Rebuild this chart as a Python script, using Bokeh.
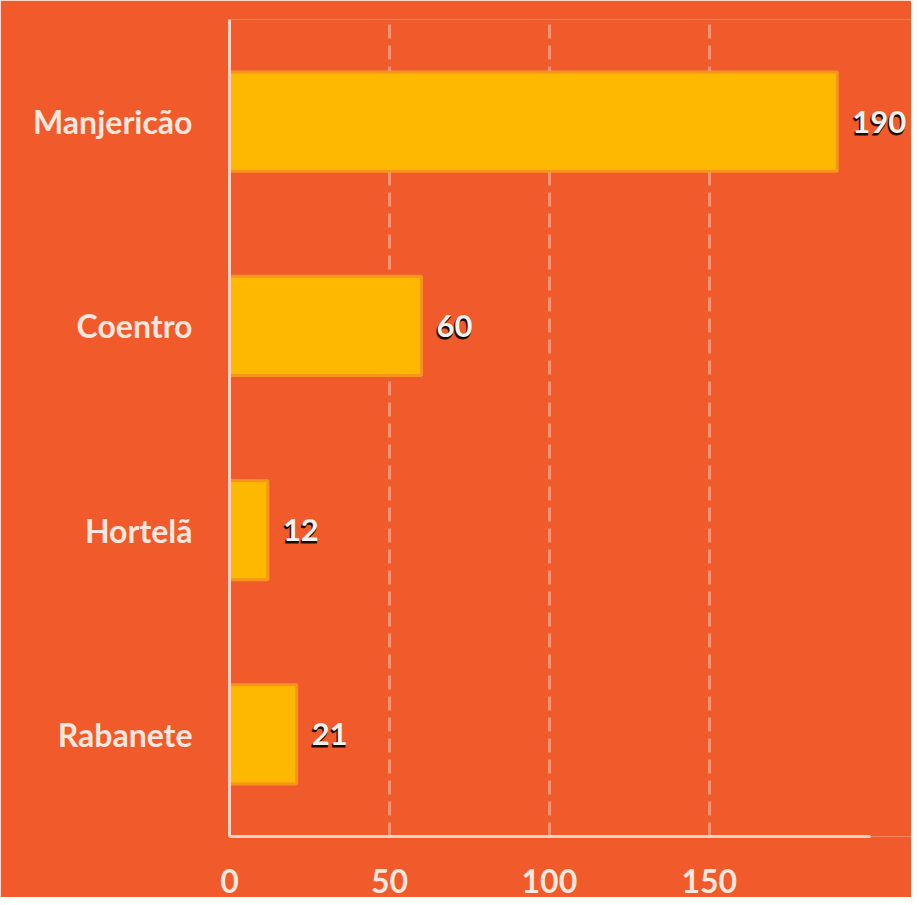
from bokeh.plotting import figure
from bokeh.models import ColumnDataSource, FixedTicker, LabelSet
from bokeh.core.properties import value
from bokeh.embed import file_html
from bokeh.resources import INLINE

categories = ["Manjericão", "Coentro", "Hortelã", "Rabanete"]
values = [190, 60, 12, 21]
x_ticks = [0, 50, 100, 150]
x_axis_end = 200.5

BG = "#F15A2B"
AXIS = "#FAD0C0"
LABEL = "#FDE6DC"

src = ColumnDataSource(dict(cat=categories, val=values, txt=[str(v) for v in values]))

p = figure(width=911, height=897, y_range=list(reversed(categories)),
           x_range=(0, 213.2), output_backend="svg", toolbar_location=None,
           min_border_left=229, min_border_right=0, min_border_top=19,
           min_border_bottom=61)
p.background_fill_color = BG
p.border_fill_color = BG
p.outline_line_color = None

p.hbar(y="cat", right="val", left=0, height=0.485, source=src,
       fill_color="#FFB800", line_color="#F7941D", line_width=3)

common = dict(x="val", y="cat", text="txt", source=src,
              text_baseline="middle", text_align="left",
              text_font=value("Lato"), text_font_size=value("31px"),
              text_font_style=value("bold"))
shadow = LabelSet(x_offset=14, y_offset=-2, text_color="#1c0c04",
                  text_outline_color="#1c0c04", **common)
labels = LabelSet(x_offset=15, y_offset=0, text_color="#F4F1EE", **common)
p.add_layout(shadow)
p.add_layout(labels)

p.ygrid.grid_line_color = None
p.xgrid.ticker = FixedTicker(ticks=[50, 100, 150])
p.xgrid.grid_line_color = "white"
p.xgrid.grid_line_alpha = 0.35
p.xgrid.grid_line_width = 3
p.xgrid.grid_line_dash = "14 7"

for ax in (p.xaxis[0], p.yaxis[0]):
    ax.axis_line_color = AXIS
    ax.axis_line_width = 3
    ax.major_tick_line_color = None
    ax.minor_tick_line_color = None
    ax.major_tick_out = 0
    ax.major_tick_in = 0
    ax.minor_tick_out = 0
    ax.major_label_text_color = LABEL
    ax.major_label_text_font = "Lato"
    ax.major_label_text_font_size = "32px"
    ax.major_label_text_font_style = "bold"

p.xaxis[0].ticker = FixedTicker(ticks=x_ticks)
p.xaxis[0].bounds = (0, x_axis_end)
p.xaxis[0].major_label_standoff = 32
p.yaxis[0].major_label_standoff = 37

open("out.html", "w").write(file_html(p, INLINE))
